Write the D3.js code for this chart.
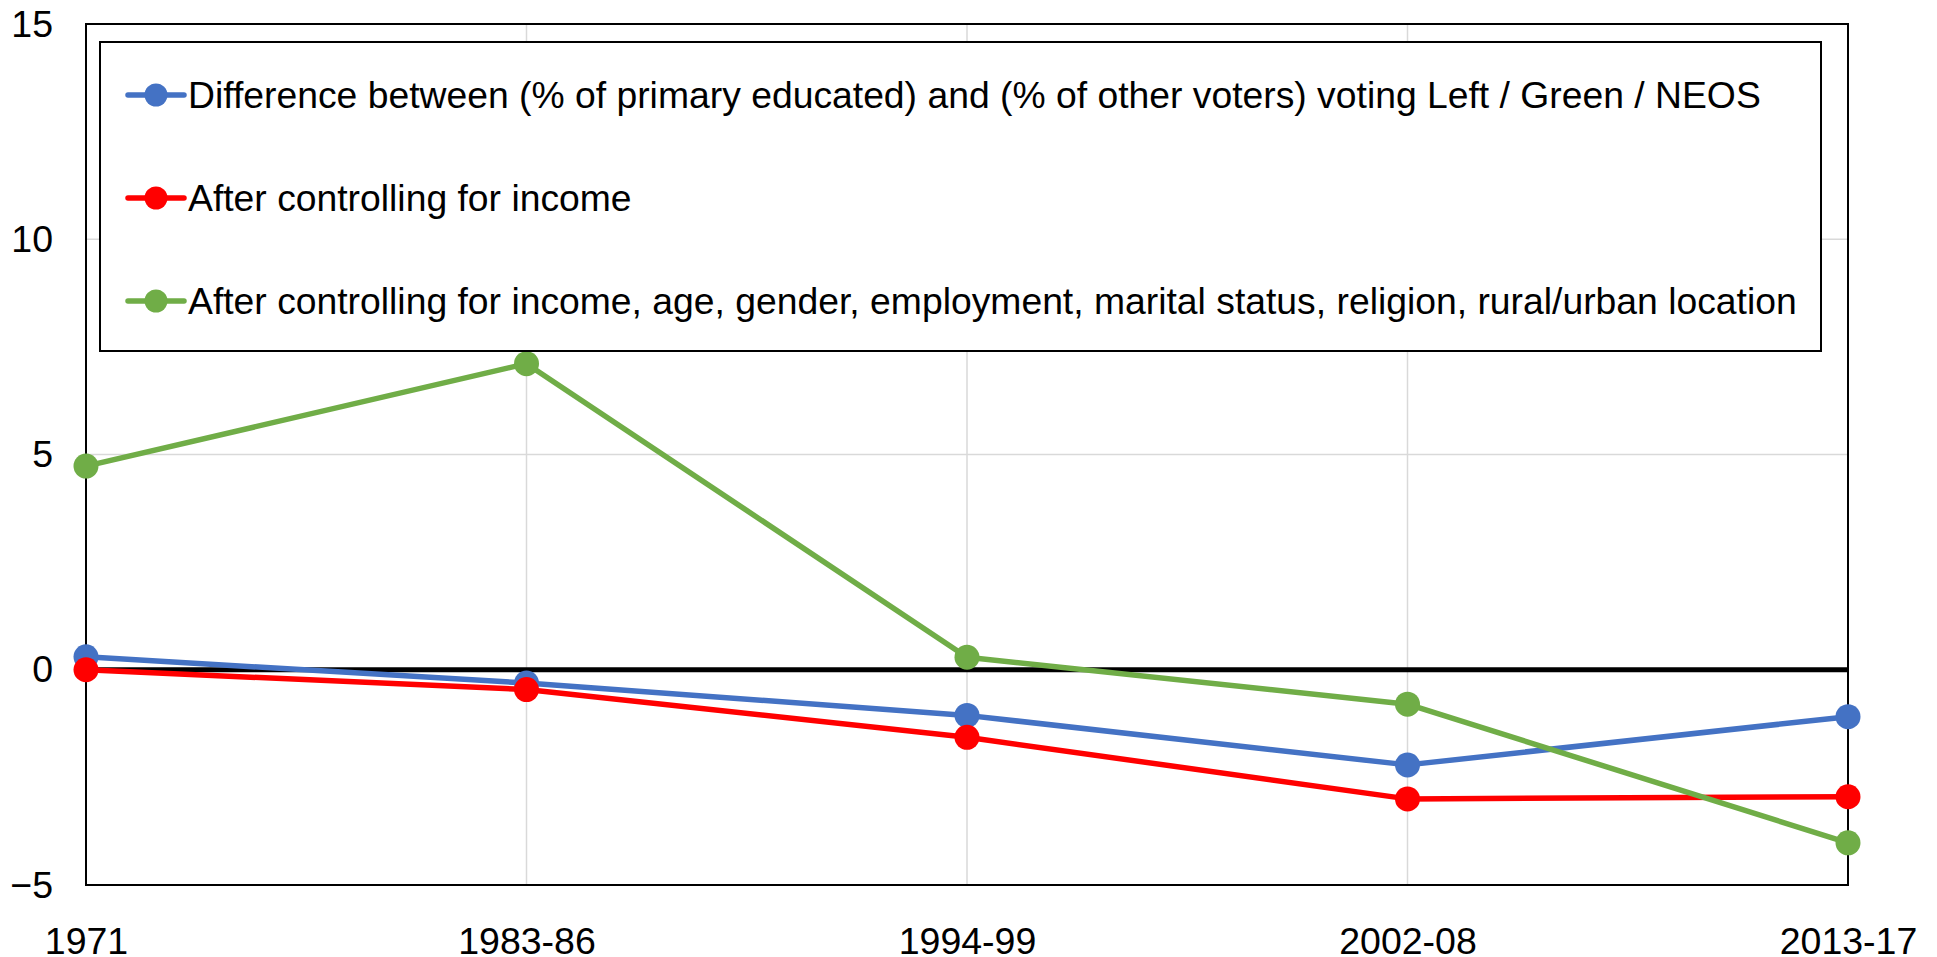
<!DOCTYPE html>
<html>
<head>
<meta charset="utf-8">
<script src="https://cdn.jsdelivr.net/npm/d3@7"></script>
<style>
  html, body { margin: 0; padding: 0; background: #fff; }
  svg { display: block; }
  text { font-family: "Liberation Sans", Arial, sans-serif; fill: #000; }
</style>
</head>
<body>
<svg id="chart" width="1937" height="957"></svg>
<script>
const categories = ["1971", "1983-86", "1994-99", "2002-08", "2013-17"];
const seriesNames = [
  "Difference between (% of primary educated) and (% of other voters) voting Left / Green / NEOS",
  "After controlling for income",
  "After controlling for income, age, gender, employment, marital status, religion, rural/urban location"
];
const seriesColors = ["#4472C4", "#FF0000", "#70AD47"];
const primaryVsOther = [0.30, -0.31, -1.06, -2.21, -1.09];
const afterIncome = [0.0, -0.46, -1.57, -3.0, -2.95];
const afterAllControls = [4.73, 7.11, 0.29, -0.80, -4.02];
const yTicks = [-5, 0, 5, 10, 15];

const seriesValues = [primaryVsOther, afterIncome, afterAllControls];

(function () {
const svg = d3.select("#chart");
const pLeft = 86, pRight = 1848, pTop = 24, pBottom = 885;

const x = d3.scalePoint().domain(categories).range([pLeft, pRight]);
const y = d3.scaleLinear().domain([-5, 15]).range([pBottom, pTop]);

// gridlines
svg.append("g").selectAll("line").data(yTicks.filter(d => d > -5 && d < 15 && d !== 0)).join("line")
  .attr("x1", pLeft).attr("x2", pRight).attr("y1", d => y(d)).attr("y2", d => y(d))
  .attr("stroke", "#d9d9d9").attr("stroke-width", 1.5);
svg.append("g").selectAll("line").data(categories.slice(1, -1)).join("line")
  .attr("x1", d => x(d)).attr("x2", d => x(d)).attr("y1", pTop).attr("y2", pBottom)
  .attr("stroke", "#d9d9d9").attr("stroke-width", 1.5);

// plot frame
svg.append("rect").attr("x", pLeft).attr("y", pTop).attr("width", pRight - pLeft).attr("height", pBottom - pTop)
  .attr("fill", "none").attr("stroke", "#000").attr("stroke-width", 2);

// zero line
svg.append("line").attr("x1", pLeft).attr("x2", pRight).attr("y1", y(0)).attr("y2", y(0))
  .attr("stroke", "#000").attr("stroke-width", 5);

// y axis labels
const yAxis = d3.axisLeft(y).tickValues(yTicks).tickSize(0).tickPadding(33);
const gy = svg.append("g").attr("transform", `translate(${pLeft},0)`).call(yAxis);
gy.select(".domain").remove();
gy.selectAll("text").attr("font-size", 37.5).attr("font-family", "Liberation Sans, Arial, sans-serif").attr("fill", "#000");

// x axis labels
const xAxis = d3.axisBottom(x).tickSize(0).tickPadding(42);
const gx = svg.append("g").attr("transform", `translate(0,${pBottom})`).call(xAxis);
gx.select(".domain").remove();
gx.selectAll("text").attr("font-size", 37.5).attr("font-family", "Liberation Sans, Arial, sans-serif").attr("fill", "#000");

// series
const line = d3.line().x((d, i) => x(categories[i])).y(d => y(d));
seriesValues.forEach((vals, si) => {
  const g = svg.append("g");
  g.append("path").datum(vals).attr("d", line).attr("fill", "none")
    .attr("stroke", seriesColors[si]).attr("stroke-width", 5.5).attr("stroke-linejoin", "round");
  g.selectAll("circle").data(vals).join("circle")
    .attr("cx", (d, i) => x(categories[i])).attr("cy", d => y(d)).attr("r", 12.5)
    .attr("fill", seriesColors[si]);
});

// legend
const legend = svg.append("g");
legend.append("rect").attr("x", 100).attr("y", 42).attr("width", 1721).attr("height", 309)
  .attr("fill", "#fff").attr("stroke", "#000").attr("stroke-width", 2);
const rowY = d3.scalePoint().domain(d3.range(seriesNames.length)).range([95, 301]);
seriesNames.forEach((name, i) => {
  const ry = rowY(i);
  legend.append("line").attr("x1", 128).attr("x2", 184).attr("y1", ry).attr("y2", ry)
    .attr("stroke", seriesColors[i]).attr("stroke-width", 5.5).attr("stroke-linecap", "round");
  legend.append("circle").attr("cx", 156).attr("cy", ry).attr("r", 11.5).attr("fill", seriesColors[i]);
  legend.append("text").attr("x", 188).attr("y", ry).attr("dy", "0.35em")
    .attr("font-size", 37.3).text(name);
});
})();
</script>
</body>
</html>
